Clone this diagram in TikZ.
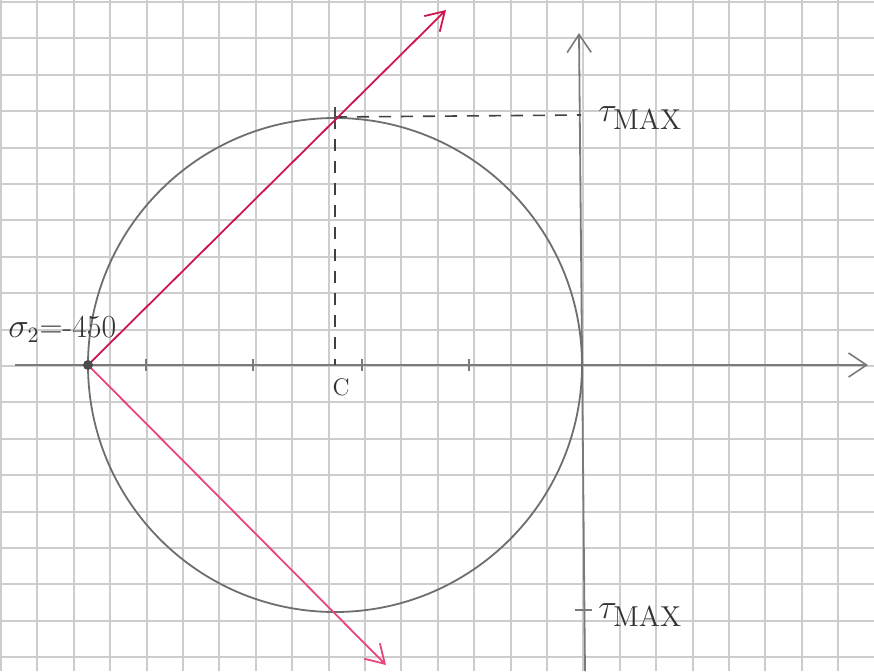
\documentclass[tikz,border=0pt]{standalone}
\usetikzlibrary{arrows.meta}
\definecolor{gridc}{HTML}{CDCDCD}
\definecolor{circc}{HTML}{6E6E6E}
\definecolor{axisc}{HTML}{7A7A7A}
\definecolor{redA}{HTML}{D0144E}
\definecolor{redB}{HTML}{E8457C}
\tikzset{
  gridline/.style={draw=gridc, line width=0.75pt},
  axisline/.style={draw=axisc, line width=0.9pt, -{Straight Barb[length=9pt,width=12pt,line width=0.8pt]}},
  mohr/.style={draw=circc, line width=0.9pt},
  redline/.style={line width=0.9pt, -{Straight Barb[length=9pt,width=11pt,line width=0.9pt]}},
  dashline/.style={draw=black!75, line width=0.8pt, dash pattern=on 6pt off 5pt},
  tick/.style={draw=axisc, line width=0.8pt},
  lbl/.style={inner sep=0pt, text=black!80}
}
\begin{document}
\begin{tikzpicture}[x=0.5pt,y=-0.5pt]
\useasboundingbox (0,0) rectangle (874,671);
% grid
\foreach \i in {0,...,24} {\pgfmathsetmacro{\gx}{round(1+36.4*\i)}\draw[gridline] (\gx,0) -- (\gx,671);}
\foreach \j in {0,...,18} {\pgfmathsetmacro{\gy}{round(2+36.4*\j)}\draw[gridline] (0,\gy) -- (874,\gy);}
% coordinates
\coordinate (xs) at (15,365);
\coordinate (xe) at (868,365);
\coordinate (ys) at (585,671);
\coordinate (ye) at (579,33);
\coordinate (s2) at (88,365);
\coordinate (ctr) at (335,365);
\coordinate (top) at (335,117);
\coordinate (tmx) at (581,115);
\coordinate (ra) at (446,10);
\coordinate (rb) at (386,665);
% axes
\draw[axisline] (xs) -- (xe);
\draw[axisline] (ys) -- (ye);
% ticks
\foreach \x in {146,253,362,469} {\draw[tick] (\x,359) -- (\x,371);}
\draw[tick] (575,610) -- (592,610);
% circle
\draw[mohr] (ctr) circle (247);
% dashed
\draw[dashline] (top) -- (ctr);
\draw[dashline] (top) -- (tmx);
\draw[line width=0.9pt, black!70] (335,107) -- (335,125);
% red lines
\draw[redline, draw=redA] (s2) -- (ra);
\draw[redline, draw=redB] (s2) -- (rb);
% point
\fill[black!70] (s2) circle (5);
% labels
\node[lbl, anchor=south west, font=\fontsize{16}{19}\selectfont] (lsig) at (8,343) {$\sigma_2$=-450};
\node[lbl, anchor=west, font=\fontsize{19}{22}\selectfont] (ltop) at (598,118) {$\tau_{\mathrm{MAX}}$};
\node[lbl, anchor=west, font=\fontsize{19}{22}\selectfont] (lbot) at (598,615) {$\tau_{\mathrm{MAX}}$};
\node[lbl, anchor=north, font=\fontsize{12}{14}\selectfont] (lc) at (341,378) {C};
\end{tikzpicture}
\end{document}
